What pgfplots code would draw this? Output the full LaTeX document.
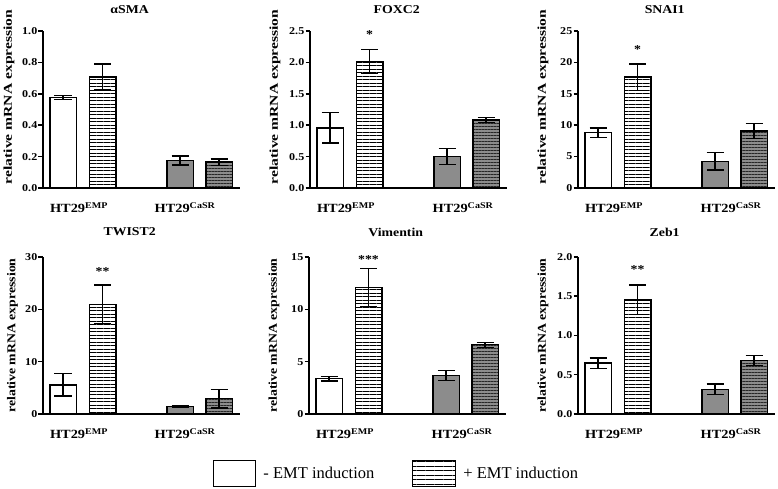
\documentclass[border=0pt]{standalone}
\usepackage{fontspec}
\setmainfont{Liberation Serif}
\newfontfamily\figf[FakeStretch=1.15]{Liberation Serif}
\newfontfamily\labtopf[FakeStretch=1.3]{Liberation Serif}
\newfontfamily\labbotf[FakeStretch=1.15]{Liberation Serif}
\newcommand\tickf{\figf\bfseries\fontsize{10.5bp}{12bp}\selectfont}
\newcommand\xtickf{\figf\bfseries\fontsize{12.5bp}{14bp}\selectfont}
\newcommand\titf{\figf\bfseries\fontsize{12bp}{14bp}\selectfont}
\newcommand\starf{\figf\bfseries\fontsize{12bp}{14bp}\selectfont}
\newcommand\legf{\fontsize{16.5bp}{18bp}\selectfont}
\usepackage{pgfplots}
\pgfplotsset{compat=1.18}
\usetikzlibrary{patterns.meta}
\definecolor{barg}{RGB}{140,140,140}

\pgfplotsset{
  panel/.style={
    scale only axis, width=197bp, height=157bp,
    xmin=0, xmax=197, ymin=0, clip=false,
    axis lines*=left, axis line style={line width=1.5bp},
    x tick style={draw=none},
    tick align=outside, major tick length=4.5bp,
    y tick style={line width=1.5bp, black},
    yticklabel style={font=\tickf, inner sep=1bp},
    xticklabel style={font=\xtickf, anchor=base, yshift=-20bp},
    xtick={36,153},
    xticklabels={HT29\textsuperscript{EMP}, HT29\textsuperscript{CaSR}},
    ylabel={relative mRNA expression},
    /pgf/number format/assume math mode=true,
  },
  toprow/.style={
    every axis y label/.style={at={(axis description cs:-0.178,0.58)}, rotate=90, anchor=center},
    ylabel style={font=\labtopf\bfseries\fontsize{12bp}{13bp}\selectfont},
    every axis title/.style={at={(axis description cs:0.44,1)}, anchor=center,
      yshift=21bp, font=\titf}},
  botrow/.style={
    every axis y label/.style={at={(axis description cs:-0.178,0.5)}, rotate=90, anchor=center},
    ylabel style={font=\labbotf\bfseries\fontsize{12bp}{13bp}\selectfont},
    every axis title/.style={at={(axis description cs:0.44,1)}, anchor=center,
      yshift=25bp, font=\titf}},
  onedec/.style={yticklabel style={/pgf/number format/.cd, fixed, fixed zerofill, precision=1}},
  err/.style={error bars/y dir=both, error bars/y explicit,
    error bars/error bar style={line width=1.3bp, black},
    error bars/error mark options={black, line width=1.3bp, mark size=8.5bp, rotate=90}},
  wbar/.style={ybar, bar width=26.5, fill=white, draw=black, line width=1.5bp, err},
  sbar/.style={ybar, bar width=26.5, draw=black, line width=1.5bp,
    pattern={Lines[angle=0,distance=3.5bp,line width=0.9bp]}, pattern color=black, err},
  gbar/.style={ybar, bar width=26.5, fill=barg, draw=black, line width=1.5bp, err},
  dbase/.style={ybar, bar width=26.5, fill=barg, draw=none, forget plot},
  dbar/.style={ybar, bar width=26.5, draw=black, line width=1.5bp,
    pattern={Lines[angle=0,distance=3bp,line width=0.9bp]}, pattern color=black!85, err},
  stars/.style={draw=none, forget plot, nodes near coords, point meta=explicit symbolic,
    nodes near coords style={anchor=center, font=\starf, inner sep=0pt}},
}

\begin{document}
\begin{tikzpicture}
\path[use as bounding box] (0bp,0bp) rectangle (778bp,489bp);

% alpha SMA
\begin{axis}[panel, toprow, onedec, at={(43bp,301bp)}, anchor=south west,
  ymax=1.0, ytick={0,0.2,0.4,0.6,0.8,1.0}, xtick={36,142}, title={αSMA},
  every axis y label/.append style={at={(axis description cs:-0.173,0.58)}}]
\addplot[wbar] coordinates {(20,0.575) +- (0,0.013)};
\addplot[sbar] coordinates {(59.5,0.707) +- (0,0.083)};
\addplot[gbar] coordinates {(137,0.175) +- (0,0.029)};
\addplot[dbase] coordinates {(176,0.164)};
\addplot[dbar] coordinates {(176,0.164) +- (0,0.020)};
\end{axis}

% FOXC2
\begin{axis}[panel, toprow, onedec, at={(310bp,301bp)}, anchor=south west,
  ymax=2.5, ytick={0,0.5,1.0,1.5,2.0,2.5}, title={FOXC2}]
\addplot[wbar] coordinates {(20,0.957) +- (0,0.240)};
\addplot[sbar] coordinates {(59.5,2.015) +- (0,0.190)};
\addplot[gbar] coordinates {(137,0.500) +- (0,0.128)};
\addplot[dbase] coordinates {(176,1.083)};
\addplot[dbar] coordinates {(176,1.083) +- (0,0.035)};
\addplot[stars] coordinates {(59.5,2.45) [*]};
\end{axis}

% SNAI1
\begin{axis}[panel, toprow, at={(578bp,301bp)}, anchor=south west,
  ymax=25, ytick={0,5,10,15,20,25}, title={SNAI1}]
\addplot[wbar] coordinates {(20,8.80) +- (0,0.74)};
\addplot[sbar] coordinates {(59.5,17.65) +- (0,2.10)};
\addplot[gbar] coordinates {(137,4.25) +- (0,1.40)};
\addplot[dbase] coordinates {(176,9.07)};
\addplot[dbar] coordinates {(176,9.07) +- (0,1.20)};
\addplot[stars] coordinates {(59.5,22.1) [*]};
\end{axis}

% TWIST2
\begin{axis}[panel, botrow, at={(43bp,75bp)}, anchor=south west,
  ymax=30, ytick={0,10,20,30}, xtick={36,142}, title={TWIST2},
  every axis y label/.append style={at={(axis description cs:-0.155,0.5)}}]
\addplot[wbar] coordinates {(20,5.58) +- (0,2.15)};
\addplot[sbar] coordinates {(59.5,20.95) +- (0,3.70)};
\addplot[gbar] coordinates {(137,1.40) +- (0,0.18)};
\addplot[dbase] coordinates {(176,2.92)};
\addplot[dbar] coordinates {(176,2.92) +- (0,1.75)};
\addplot[stars] coordinates {(59.5,27.3) [**]};
\end{axis}

% Vimentin
\begin{axis}[panel, botrow, at={(309bp,75bp)}, anchor=south west,
  ymax=15, ytick={0,5,10,15}, title={Vimentin},
  legend columns=2,
  legend style={at={(axis description cs:-0.487,-0.29)}, anchor=north west,
    draw=none, inner sep=0pt, font=\legf, cells={anchor=west},
    nodes={inner sep=0pt},
    /tikz/every odd column/.append style={column sep=7bp},
    /tikz/every even column/.append style={column sep=38bp}}]
\addplot[wbar, forget plot] coordinates {(20,3.38) +- (0,0.22)};
\addplot[sbar, forget plot] coordinates {(59.5,12.10) +- (0,1.83)};
\addplot[gbar, forget plot] coordinates {(137,3.69) +- (0,0.47)};
\addplot[dbase] coordinates {(176,6.62)};
\addplot[dbar, forget plot] coordinates {(176,6.62) +- (0,0.24)};
\addplot[stars] coordinates {(59.5,14.75) [***]};
\addlegendimage{legend image code/.code={\draw[line width=1.2bp, fill=white] (0bp,-13bp) rectangle (42bp,13bp);}}
\addlegendentry{- EMT induction}
\addlegendimage{legend image code/.code={\draw[line width=1.2bp, pattern={Lines[angle=0,distance=4.5bp,line width=1bp]}] (0bp,-13bp) rectangle (43bp,13bp);}}
\addlegendentry{+ EMT induction}
\end{axis}

% Zeb1
\begin{axis}[panel, botrow, onedec, at={(578bp,75bp)}, anchor=south west,
  ymax=2.0, ytick={0,0.5,1.0,1.5,2.0}, title={Zeb1}]
\addplot[wbar] coordinates {(20,0.647) +- (0,0.068)};
\addplot[sbar] coordinates {(59.5,1.455) +- (0,0.190)};
\addplot[gbar] coordinates {(137,0.315) +- (0,0.068)};
\addplot[dbase] coordinates {(176,0.680)};
\addplot[dbar] coordinates {(176,0.680) +- (0,0.063)};
\addplot[stars] coordinates {(59.5,1.84) [**]};
\end{axis}
\end{tikzpicture}
\end{document}
